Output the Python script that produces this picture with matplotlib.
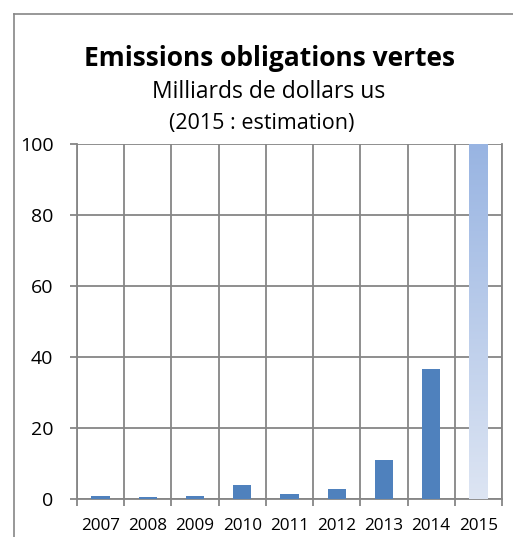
import numpy as np
import matplotlib.pyplot as plt
from matplotlib.colors import LinearSegmentedColormap
from matplotlib.lines import Line2D

plt.rcParams['font.family'] = ['Open Sans', 'DejaVu Sans']

years = ['2007', '2008', '2009', '2010', '2011', '2012', '2013', '2014', '2015']
values = [0.85, 0.5, 0.85, 3.9, 1.3, 2.8, 10.9, 36.5, 100]
estimate_year = '2015'

W, H = 513, 537
fig = plt.figure(figsize=(W / 100, H / 100), dpi=100)

# outer chart frame (cut by image edge on right and bottom)
grey = '#868686'
fig.add_artist(Line2D([14 / W, 14 / W], [0, 1 - 14 / H], color=grey, lw=1.2, transform=fig.transFigure))
fig.add_artist(Line2D([14 / W, 1], [1 - 14 / H, 1 - 14 / H], color=grey, lw=1.2, transform=fig.transFigure))

ax = fig.add_axes([77 / W, (H - 499) / H, (502 - 77) / W, (499 - 144) / H])

x = np.arange(len(years))
colors = ['#4f81bd' if y != estimate_year else 'none' for y in years]
bars = ax.bar(x, values, width=0.39, color=colors, zorder=3)

# gradient fill for the estimated year
cmap = LinearSegmentedColormap.from_list('est', ['#dde5f3', '#98b4e2'])
for b, y in zip(bars, years):
    if y == estimate_year:
        x0, w, h = b.get_x(), b.get_width(), b.get_height()
        grad = np.linspace(0, 1, 256).reshape(-1, 1)
        im = ax.imshow(grad, cmap=cmap, origin='lower', aspect='auto',
                       extent=[x0, x0 + w, 0, h], zorder=3)
        im.set_clip_path(b)

ax.set_xlim(-0.5, len(years) - 0.5)
ax.set_ylim(0, 100)
ax.set_yticks([0, 20, 40, 60, 80, 100])
ax.set_xticks(x)
ax.set_xticklabels(years)
ax.set_xticks(np.arange(len(years) + 1) - 0.5, minor=True)

ax.grid(True, which='major', axis='y', color=grey, lw=1.3, zorder=0)
ax.grid(True, which='minor', axis='x', color=grey, lw=1.3, zorder=0)
for s in ['top', 'left', 'right', 'bottom']:
    ax.spines[s].set_color(grey)
    ax.spines[s].set_linewidth(1.3)
ax.spines['top'].set_visible(False)

ax.tick_params(axis='y', labelsize=14, length=5, color=grey, width=1.3, pad=12)
ax.tick_params(axis='x', which='major', labelsize=12.3, length=0, pad=14)
ax.tick_params(axis='x', which='minor', length=5, color=grey, width=1.3)

fig.text(269 / W, 1 - 59 / H, 'Emissions obligations vertes', ha='center', va='center',
         fontsize=19, fontweight='bold')
fig.text(269 / W, 1 - 92 / H, 'Milliards de dollars us', ha='center', va='center', fontsize=16.5)
fig.text(262 / W, 1 - 123 / H, '(2015 : estimation)', ha='center', va='center', fontsize=15.5)

fig.savefig('out.png', dpi=100)
